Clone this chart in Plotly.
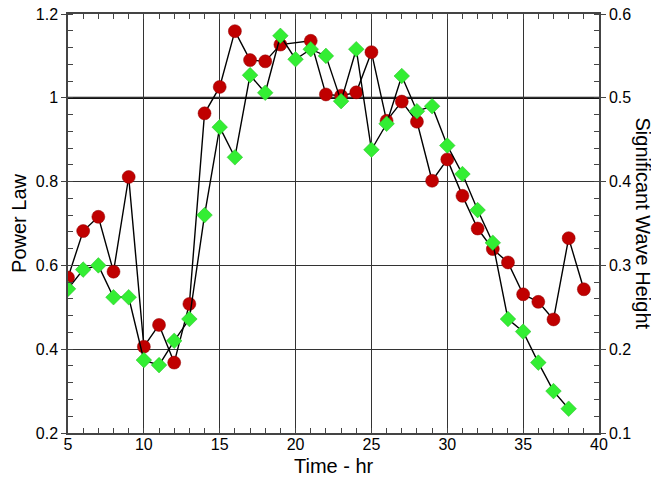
import plotly.graph_objects as go

hours = list(range(5, 40))
power_law = [0.571, 0.682, 0.716, 0.585, 0.811, 0.406, 0.458, 0.368, 0.508, 0.963,
             1.026, 1.159, 1.090, 1.087, 1.127, None, 1.136, 1.008, 1.005, 1.013,
             1.109, 0.945, 0.991, 0.943, 0.802, 0.853, 0.766, 0.688, 0.639, 0.607,
             0.531, 0.513, 0.471, 0.665, 0.543]
wave_hours = list(range(5, 39))
wave_height = [0.272, 0.295, 0.300, 0.262, 0.262, 0.187, 0.181, 0.210, 0.236, 0.360,
               0.465, 0.429, 0.527, 0.506, 0.574, 0.546, 0.558, 0.550, 0.496, 0.558,
               0.438, 0.469, 0.526, 0.484, 0.490, 0.443, 0.409, 0.366, 0.327, 0.236,
               0.221, 0.184, 0.150, 0.129]

font_family = "Liberation Sans, Arial, Helvetica, sans-serif"
red = "#c00000"
green = "#33ee33"

fig = go.Figure()
fig.add_trace(go.Scatter(
    x=hours, y=power_law, mode="lines+markers", connectgaps=True,
    line=dict(color="black", width=1.4),
    marker=dict(symbol="circle", size=13, color=red, line=dict(color="#900000", width=0.5)),
    name="Power Law", yaxis="y"))
fig.add_trace(go.Scatter(
    x=wave_hours, y=wave_height, mode="lines+markers",
    line=dict(color="black", width=1.4),
    marker=dict(symbol="diamond", size=12, color=green, line=dict(color="#22bb22", width=0.5)),
    name="Significant Wave Height", yaxis="y2"))

tickfont = dict(family=font_family, size=16, color="black")
fig.update_layout(
    width=659, height=477,
    margin=dict(l=60, r=68, t=6, b=52),
    paper_bgcolor="white", plot_bgcolor="white",
    showlegend=False,
    font=dict(family=font_family, color="black"),
    xaxis=dict(range=[5, 40], tickvals=[5, 10, 15, 20, 25, 30, 35, 40],
               automargin=False, ticklabeloverflow="allow", ticklabelstandoff=-4,
               showgrid=True, gridcolor="#333333", gridwidth=1,
               showline=True, linecolor="#444444", linewidth=1.5, mirror="allticks",
               ticks="inside", ticklen=5, tickcolor="#444444",
               minor=dict(dtick=1, ticks="inside", ticklen=5, tickcolor="#444444", showgrid=False),
               tickfont=tickfont, zeroline=False),
    yaxis=dict(range=[0.2, 1.2], tickvals=[0.2, 0.4, 0.6, 0.8, 1, 1.2],
               ticktext=["0.2", "0.4", "0.6", "0.8", "1", "1.2"],
               automargin=False, ticklabeloverflow="allow",
               showgrid=True, gridcolor="#333333", gridwidth=1,
               showline=True, linecolor="#444444", linewidth=1.5,
               ticks="outside", ticklen=5, tickcolor="#444444",
               minor=dict(dtick=0.04, ticks="inside", ticklen=5, tickcolor="#444444", showgrid=False),
               tickfont=tickfont, zeroline=False,
               title=dict(text="Power Law", font=dict(family=font_family, size=20), standoff=6)),
    yaxis2=dict(range=[0.1, 0.6], overlaying="y", side="right",
                tickvals=[0.1, 0.2, 0.3, 0.4, 0.5, 0.6],
                automargin=False, ticklabeloverflow="allow",
                showgrid=False,
                showline=True, linecolor="#444444", linewidth=1.5,
                ticks="outside", ticklen=5, tickcolor="#444444",
                minor=dict(dtick=0.02, ticks="inside", ticklen=5, tickcolor="#444444", showgrid=False),
                tickfont=tickfont, zeroline=False),
)
fig.add_hline(y=1, line=dict(color="#111111", width=2.2), layer="below")
fig.add_annotation(text="Significant Wave Height", textangle=90,
                   xref="paper", yref="paper", x=1.0, y=0.5, xanchor="center", yanchor="middle",
                   xshift=44, showarrow=False,
                   font=dict(family=font_family, size=20, color="black"))
fig.add_annotation(text="Time - hr",
                   xref="paper", yref="paper", x=0.5, y=0, xanchor="center", yanchor="top",
                   yshift=-20, showarrow=False,
                   font=dict(family=font_family, size=20, color="black"))
fig.write_html("out.html")
